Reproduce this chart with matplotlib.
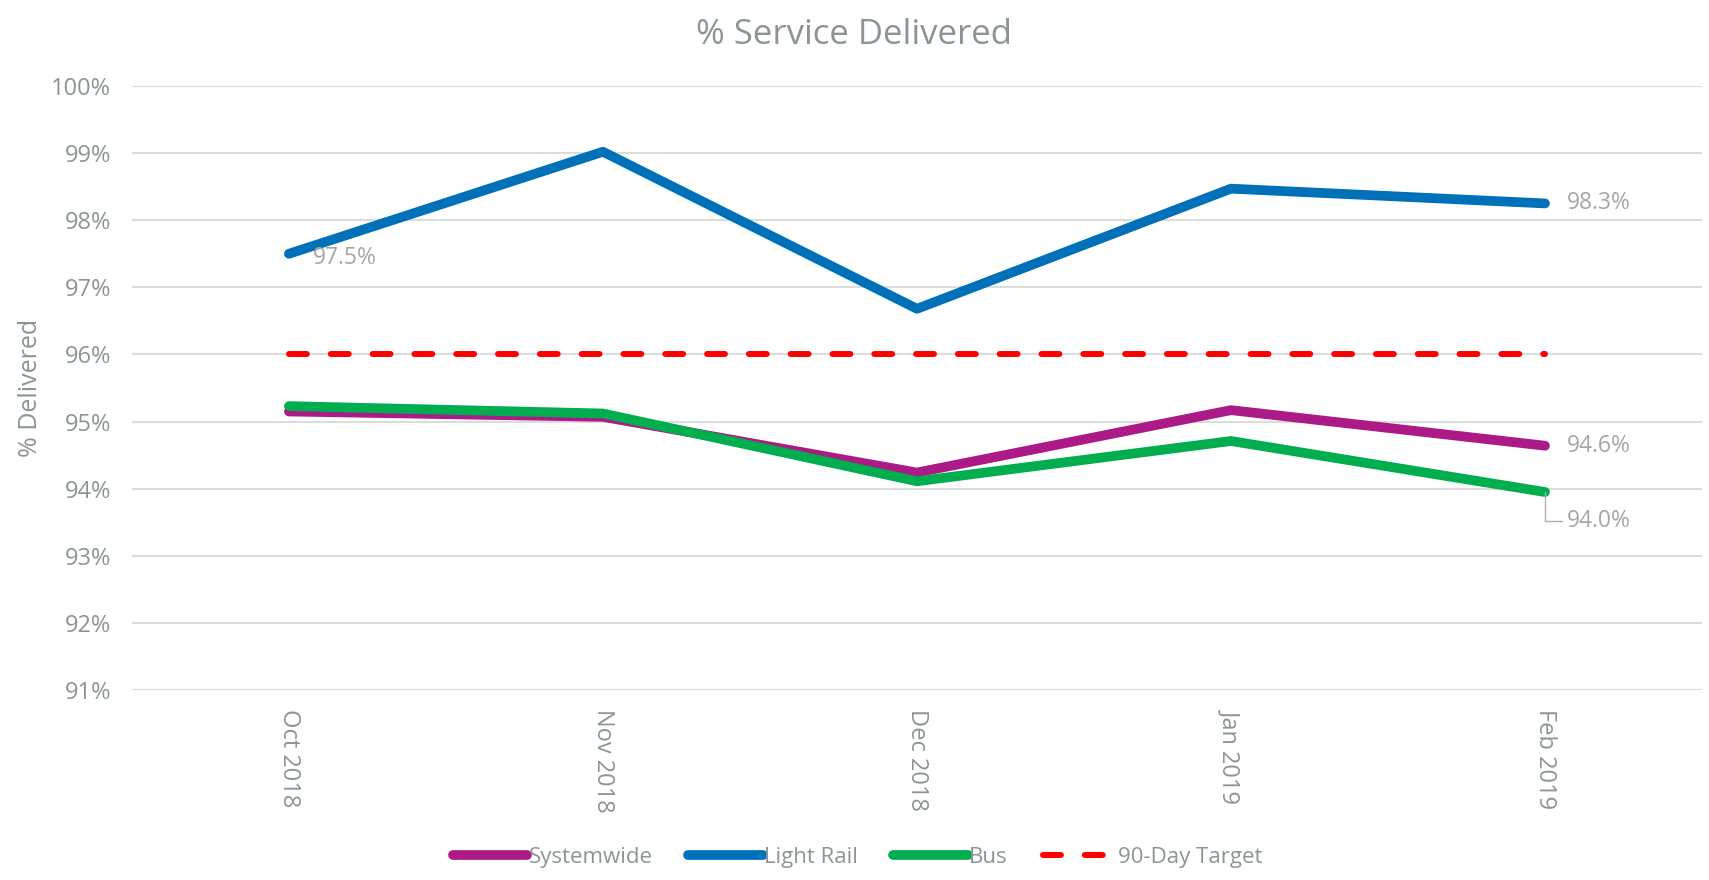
import matplotlib.pyplot as plt

plt.rcParams['font.family'] = ['Open Sans', 'DejaVu Sans']

bulan = ["Oct 2018", "Nov 2018", "Dec 2018", "Jan 2019", "Feb 2019"]
systemwide = [95.15, 95.07, 94.24, 95.17, 94.64]
light_rail = [97.50, 99.02, 96.68, 98.47, 98.25]
bus = [95.23, 95.12, 94.11, 94.71, 93.95]
target = [96, 96, 96, 96, 96]

teks_abu = "#8c9596"
label_abu = "#a6a6a6"

fig = plt.figure(figsize=(17.09, 8.80), dpi=100)
ax = fig.add_axes([0.0772, 0.2159, 0.9187, 0.6864])

x = range(len(bulan))
ax.plot(x, systemwide, color="#AB1A86", lw=7, solid_capstyle="round", solid_joinstyle="round", label="Systemwide", clip_on=False)
ax.plot(x, light_rail, color="#0070B8", lw=7, solid_capstyle="round", solid_joinstyle="round", label="Light Rail", clip_on=False)
ax.plot(x, bus, color="#00AD4F", lw=7, solid_capstyle="round", solid_joinstyle="round", label="Bus", clip_on=False)
ax.plot(x, target, color="#FF0000", lw=4.3, dashes=(3, 4), dash_capstyle="round", label="90-Day Target")

# label data
ax.annotate("97.5%", (0, light_rail[0]), xytext=(17, -3), textcoords="offset points",
            ha="left", va="center", fontsize=16.5, color=label_abu)
ax.annotate("98.3%", (4, light_rail[4]), xytext=(16, 0), textcoords="offset points",
            ha="left", va="center", fontsize=16.5, color=label_abu)
ax.annotate("94.6%", (4, systemwide[4]), xytext=(16, 0), textcoords="offset points",
            ha="left", va="center", fontsize=16.5, color=label_abu)
ax.annotate("94.0%", (4, bus[4]), xytext=(16, -21), textcoords="offset points",
            ha="left", va="center", fontsize=16.5, color=label_abu,
            arrowprops=dict(arrowstyle="-", color="#b0b0b0", lw=1,
                            connectionstyle="angle,angleA=0,angleB=90,rad=0",
                            shrinkA=2, shrinkB=0))

ax.set_xlim(-0.5, 4.5)
ax.set_ylim(91, 100)
ax.set_yticks(range(91, 101))
ax.set_yticklabels([f"{v}%" for v in range(91, 101)])
ax.set_xticks(list(x))
ax.set_xticklabels(bulan, rotation=270, va="top", ha="center")
ax.tick_params(axis="both", length=0, colors=teks_abu, labelsize=17)
ax.tick_params(axis="x", pad=14)
ax.tick_params(axis="y", pad=15)
ax.grid(axis="y", color="#dcdcdc", lw=1.5)
ax.set_axisbelow(True)
for s in ax.spines.values():
    s.set_visible(False)

ax.set_ylabel("% Delivered", fontsize=18, color=teks_abu)
ax.yaxis.set_label_coords(-0.0567, 0.5)
fig.text(0.5, 0.96, "% Service Delivered", fontsize=25, color=teks_abu, ha="center", va="center")

fig.legend(loc="center", bbox_to_anchor=(0.502, 0.026), ncol=4, frameon=False,
           fontsize=16, labelcolor=teks_abu, handlelength=3.35, handletextpad=0.05,
           columnspacing=1.6)

fig.savefig("out.png", dpi=100)
